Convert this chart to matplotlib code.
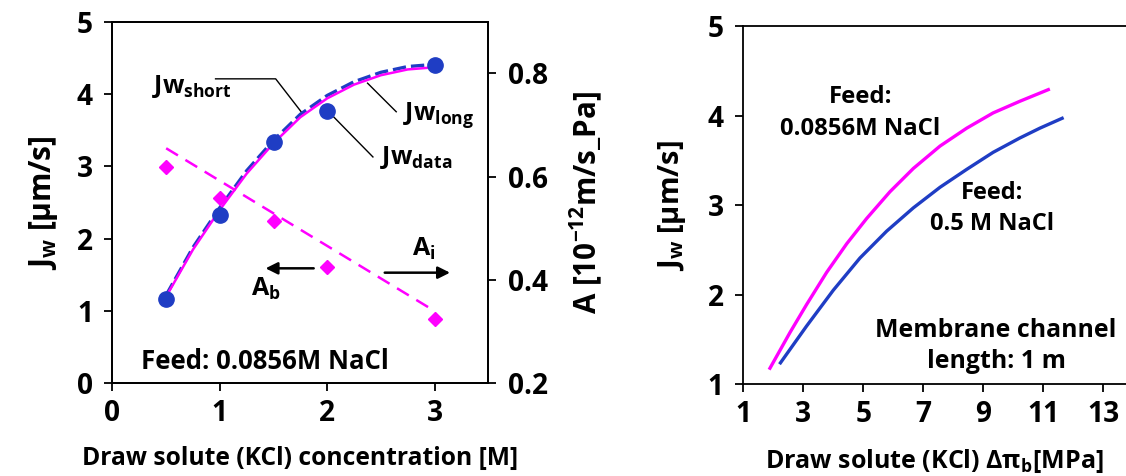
import numpy as np
import matplotlib
matplotlib.use("Agg")
import matplotlib.pyplot as plt

FONT = 'Open Sans'
plt.rcParams['font.family'] = [FONT, 'DejaVu Sans']
plt.rcParams['font.weight'] = 'bold'
plt.rcParams['axes.labelweight'] = 'bold'
plt.rcParams['mathtext.fontset'] = 'custom'
plt.rcParams['mathtext.rm'] = FONT + ':bold'
plt.rcParams['mathtext.it'] = FONT + ':bold'
plt.rcParams['mathtext.bf'] = FONT + ':bold'
plt.rcParams['mathtext.default'] = 'bf'

MAGENTA = '#ff00ff'
BLUE = '#1f3dc4'

# --- left panel: flux vs draw concentration ---
conc_data = [0.5, 1.0, 1.5, 2.0, 3.0]
jw_data = [1.17, 2.33, 3.33, 3.76, 4.40]

conc_model = [0.5, 0.75, 1.0, 1.25, 1.5, 1.75, 2.0, 2.25, 2.5, 2.75, 3.0]
jw_short = [1.20, 1.85, 2.40, 2.90, 3.32, 3.68, 3.94, 4.13, 4.26, 4.34, 4.37]
jw_long = [1.22, 1.88, 2.43, 2.94, 3.36, 3.72, 3.98, 4.17, 4.30, 4.38, 4.41]

a_data = [0.619, 0.558, 0.514, 0.425, 0.325]
conc_a_line = [0.5, 3.0]
a_line = [0.655, 0.340]

# --- right panel: flux vs osmotic pressure difference ---
dpi_low_feed = [1.89, 2.56, 3.11, 3.78, 4.45, 5.11, 5.89, 6.67, 7.56, 8.45, 9.33, 10.22, 11.17]
jw_low_feed = [1.18, 1.58, 1.89, 2.25, 2.57, 2.85, 3.15, 3.41, 3.66, 3.86, 4.03, 4.16, 4.29]
dpi_high_feed = [2.24, 3.11, 4.00, 4.89, 5.78, 6.67, 7.56, 8.45, 9.33, 10.22, 10.89, 11.63]
jw_high_feed = [1.24, 1.65, 2.05, 2.41, 2.71, 2.97, 3.20, 3.40, 3.59, 3.75, 3.86, 3.97]


def style_axis(a, size=18):
    a.tick_params(direction='out', length=6, width=1.3, labelsize=size)
    a.tick_params(axis='x', pad=5)
    a.tick_params(axis='y', pad=8)
    for lbl in a.get_xticklabels() + a.get_yticklabels():
        lbl.set_fontweight('bold')
    for s in a.spines.values():
        s.set_linewidth(1.3)


def fit_size(txt, target_px, use_height=False):
    # rescale the font so the rendered text spans target_px pixels
    r = fig.canvas.get_renderer()
    ext = txt.get_window_extent(r)
    cur = ext.height if use_height else ext.width
    txt.set_fontsize(txt.get_fontsize() * target_px / cur)


fig = plt.figure(figsize=(11.26, 4.76), dpi=100)
ax = fig.add_axes([0.0999, 0.1947, 0.3337, 0.7597])
ax2 = ax.twinx()

ax.plot(conc_model, jw_long, color=BLUE, lw=2.4, ls=(0, (4, 1.5)), zorder=3)
ax.plot(conc_model, jw_short, color=MAGENTA, lw=1.8, zorder=4)
ax.plot(conc_data, jw_data, 'o', color=BLUE, ms=11, zorder=5)

ax2.plot(conc_a_line, a_line, color=MAGENTA, lw=1.8, ls=(0, (5.5, 3.5)))
ax2.plot(conc_data, a_data, 'D', color=MAGENTA, ms=7)

ax.set_xlim(0, 3.5)
ax.set_ylim(0, 5)
ax2.set_ylim(0.2, 0.9)
ax.set_xticks([0, 1, 2, 3])
ax.set_yticks([0, 1, 2, 3, 4, 5])
ax2.set_yticks([0.2, 0.4, 0.6, 0.8])
ax2.set_yticklabels(['0.2', '0.4', '0.6', '0.8'])

xl1 = ax.set_xlabel('Draw solute (KCl) concentration [M]', fontsize=18, labelpad=13)
yl1 = ax.set_ylabel(r'J$_\mathregular{w}$ [µm/s]', fontsize=19, labelpad=12)
yl2 = ax2.set_ylabel(r'A [10$^\mathregular{-12}$m/s_Pa]', fontsize=18, rotation=90, labelpad=14)

# leader lines and labels
ax.plot([0.96, 1.52, 1.76], [4.21, 4.21, 3.75], color='black', lw=1)
ax.plot([2.376, 2.643], [4.15, 3.755], color='black', lw=1)
ax.plot([2.043, 2.426], [3.71, 3.13], color='black', lw=1)
ax.text(0.37, 4.1, r'Jw$_\mathregular{short}$', fontsize=18, va='center')
ax.text(2.71, 3.71, r'Jw$_\mathregular{long}$', fontsize=18, va='center')
ax.text(2.49, 3.12, r'Jw$_\mathregular{data}$', fontsize=18, va='center')

ax.annotate('', xy=(1.40, 1.59), xytext=(1.90, 1.59),
            arrowprops=dict(arrowstyle='-|>', color='black', lw=1.8, mutation_scale=18))
ax.annotate('', xy=(3.17, 1.53), xytext=(2.51, 1.53),
            arrowprops=dict(arrowstyle='-|>', color='black', lw=1.8, mutation_scale=18))
ax.text(1.29, 1.30, r'A$_\mathregular{b}$', fontsize=18, va='center')
ax.text(2.79, 1.86, r'A$_\mathregular{i}$', fontsize=18, va='center')
feed1 = ax.text(0.27, 0.30, 'Feed: 0.0856M NaCl', fontsize=20, va='center')

# right panel
bx = fig.add_axes([0.6601, 0.1926, 0.3399, 0.7527])
bx.plot(dpi_low_feed, jw_low_feed, color=MAGENTA, lw=2.4)
bx.plot(dpi_high_feed, jw_high_feed, color=BLUE, lw=2.4)
bx.set_xlim(1, 13.76)
bx.set_ylim(1, 5)
bx.set_xticks([1, 3, 5, 7, 9, 11, 13])
bx.set_yticks([1, 2, 3, 4, 5])
bx.spines['right'].set_visible(False)
xl3 = bx.set_xlabel(r'Draw solute (KCl) Δπ$_\mathregular{b}$[MPa]', fontsize=18, labelpad=14)
yl3 = bx.set_ylabel(r'J$_\mathregular{w}$ [µm/s]', fontsize=19, labelpad=14)

t1 = bx.text(4.9, 4.03, 'Feed:\n0.0856M NaCl', fontsize=17, ha='center', va='center', linespacing=1.4)
t2 = bx.text(9.28, 2.96, 'Feed:\n0.5 M NaCl', fontsize=17, ha='center', va='center', linespacing=1.4)
t3 = bx.text(9.43, 1.43, 'Membrane channel\nlength: 1 m', fontsize=18, ha='center', va='center', linespacing=1.3)

# size the tick labels from the width of "0.8"
for a in (ax, ax2, bx):
    style_axis(a, 18)
fig.canvas.draw()
r = fig.canvas.get_renderer()
w08 = ax2.get_yticklabels()[3].get_window_extent(r).width
tick_size = 18 * 40 / w08
for a in (ax, ax2, bx):
    style_axis(a, tick_size)

fit_size(feed1, 248)
fit_size(xl1, 437)
fit_size(xl3, 339)
fit_size(yl1, 135, use_height=True)
fit_size(yl2, 223, use_height=True)
fit_size(yl3, 131, use_height=True)
fit_size(t1, 160)
fit_size(t2, 124)
fit_size(t3, 242)

fig.savefig('out.png', dpi=100)
